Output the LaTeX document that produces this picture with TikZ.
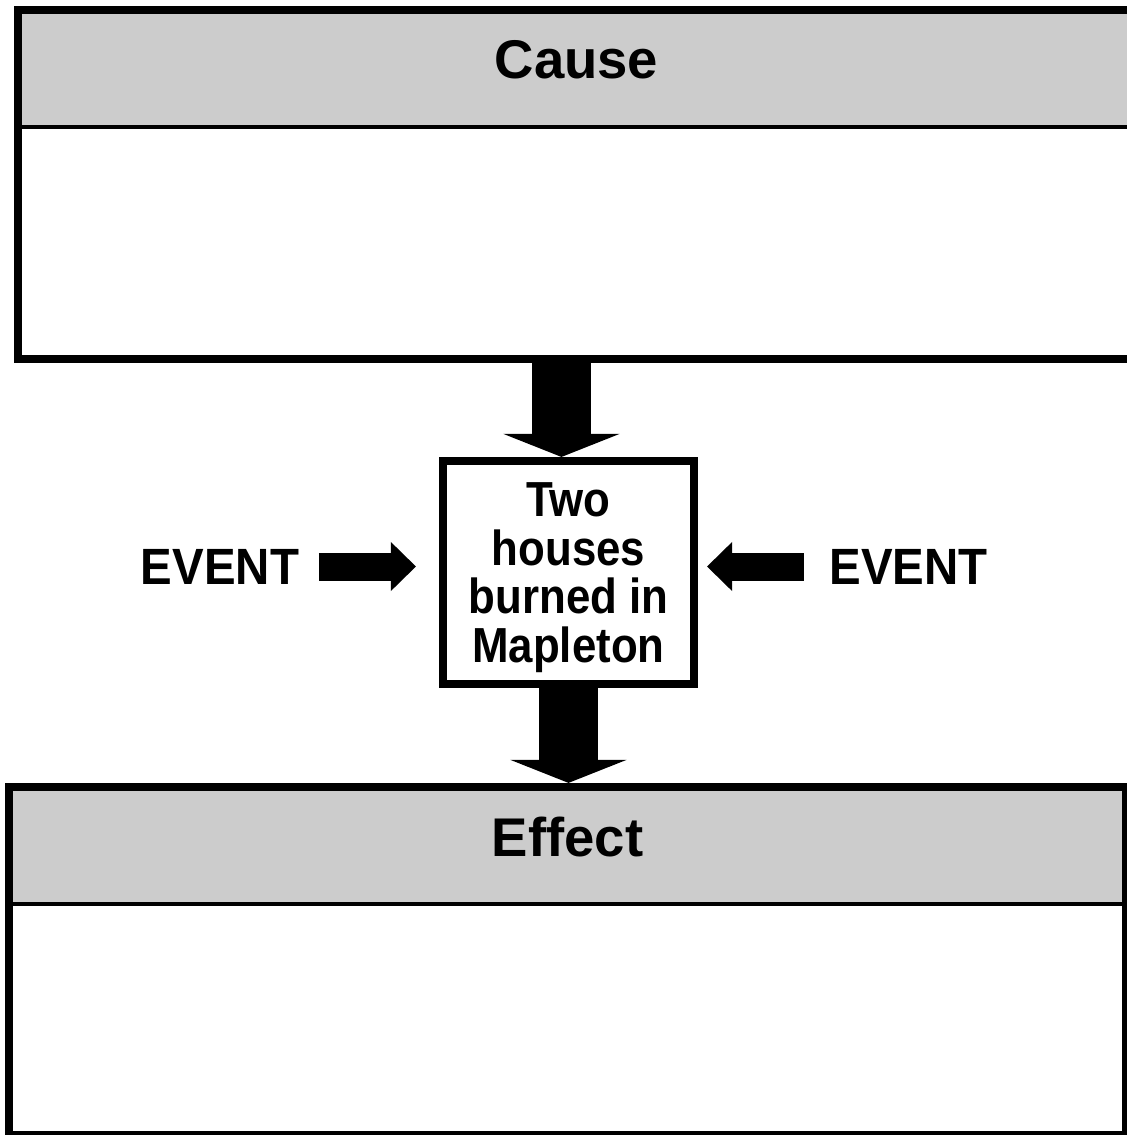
\documentclass[tikz,border=0pt]{standalone}
\usepackage{fontspec}
\setmainfont{Liberation Sans}
\newfontfamily\eventfont[FakeStretch=0.93]{Liberation Sans}
\newfontfamily\boxfont[FakeStretch=0.89]{Liberation Sans}
\usetikzlibrary{arrows.meta, positioning}

\tikzset{
  panel/.style={draw, line width=0.8mm, minimum width=11.17cm, minimum height=3.49cm, inner sep=0pt},
  panelhead/.style={draw, line width=0.4mm, fill=black!20, minimum width=11.17cm, minimum height=1.17cm,
    font=\fontsize{15.5}{18}\selectfont\bfseries, text depth=0.18cm},
  eventbox/.style={draw, line width=0.8mm, minimum width=2.51cm, minimum height=2.23cm, inner sep=0pt,
    align=center, text depth=0pt, font=\boxfont\bfseries\fontsize{14}{13.9}\selectfont},
  eventlabel/.style={inner sep=0pt, font=\eventfont\bfseries\fontsize{14.5}{17}\selectfont},
  bigarrow/.style={line width=0.59cm, -{Triangle[length=0.23cm, width=1.16cm, line width=0pt]}},
  sidearrow/.style={line width=0.28cm, -{Triangle[length=0.25cm, width=0.49cm, line width=0pt]}}
}

\begin{document}
\begin{tikzpicture}[x=0.01cm, y=-0.01cm]
    \useasboundingbox (0,0) rectangle (1127,1135);
    \clip (0,0) rectangle (1127,1135);
    % cause panel
    \node (causehead) [panelhead] at (576.5,68.5) {Cause};
    \node (cause) [panel] at (576.5,184.5) {};
    % effect panel
    \node (effecthead) [panelhead] at (567.5,845.5) {Effect};
    \node (effect) [panel, minimum height=3.48cm] at (567.5,961) {};
    % the event and its neighbours
    \node (burned) [eventbox] at (568.5,572.5) {Two\\houses\\burned in\\Mapleton};
    \node (leftev) [eventlabel] at (220,566.5) {EVENT};
    \node (rightev) [eventlabel] at (908.5,566.5) {EVENT};
    % arrows
    \draw [bigarrow] ([xshift=-0.15cm]cause.south) -- ([xshift=-0.15cm]cause.south |- burned.north);
    \draw [bigarrow] (burned.south) -- (burned.south |- effect.north);
    \draw [sidearrow, shorten <=0.19cm, shorten >=0.23cm] (leftev.east) -- (leftev.east -| burned.west);
    \draw [sidearrow, shorten <=0.25cm, shorten >=0.09cm] (rightev.west) -- (rightev.west -| burned.east);
\end{tikzpicture}
\end{document}
